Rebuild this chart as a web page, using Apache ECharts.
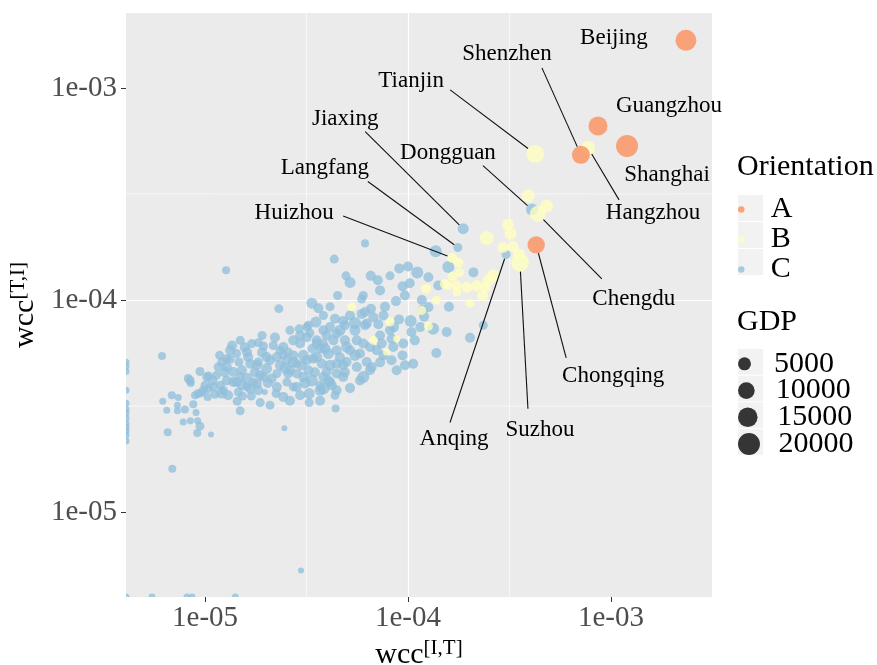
<!DOCTYPE html>
<html>
<head>
<meta charset="utf-8">
<script src="https://cdn.jsdelivr.net/npm/echarts@6/dist/echarts.min.js"></script>
<style>
  html, body { margin: 0; padding: 0; background: #ffffff; }
  #chart { width: 877px; height: 665px; }
</style>
</head>
<body>
<div id="chart"></div>
<script>
// ---------- data ----------
const orientations = ['A', 'B', 'C'];
const orientationColors = ['#FC8D59', '#FFFFBF', '#91BFDB'];
const gdpBreaks = [5000, 10000, 15000, 20000];
const majorBreaks = [1e-5, 1e-4, 1e-3];
const minorBreaks = [3.1623e-5, 3.1623e-4];
const xRange = [4.08e-6, 3.145e-3];
const yRange = [3.97e-6, 2.26e-3];

// rows: [wcc(I,T), wcc(T,I), GDP, city]; a 0 means no flow (log = -Inf)
const groupA = [
  [2.34e-3, 1.68e-3, 17900, 'Beijing'],
  [8.63e-4, 6.62e-4, 14000, 'Guangzhou'],
  [1.20e-3, 5.33e-4, 20100, 'Shanghai'],
  [7.11e-4, 4.84e-4, 12200, 'Shenzhen'],
  [4.28e-4, 1.82e-4, 11000, 'Chongqing']
];

const groupB = [
  [4.23e-4, 4.89e-4, 12000, 'Tianjin'],
  [7.71e-4, 5.22e-4, 6500, 'Hangzhou'],
  [3.56e-4, 1.50e-4, 12000, 'Suzhou'],
  [4.36e-4, 2.55e-4, 8900, 'Chengdu'],
  [1.65e-4, 1.58e-4, 2230, 'Huizhou'],
  [2.44e-4, 1.96e-4, 6200], [3.11e-4, 2.27e-4, 3970], [3.20e-4, 2.06e-4, 3970],
  [2.94e-4, 1.77e-4, 3040], [3.29e-4, 1.79e-4, 3040], [3.52e-4, 1.64e-4, 3970],
  [1.77e-4, 1.50e-4, 2230], [1.80e-4, 1.35e-4, 1550], [1.66e-4, 1.29e-4, 2230],
  [1.74e-4, 1.17e-4, 2230], [1.95e-4, 1.15e-4, 3040], [2.18e-4, 1.17e-4, 3040],
  [2.49e-4, 1.24e-4, 3970], [2.63e-4, 1.30e-4, 5020], [2.33e-4, 1.05e-4, 3040],
  [2.02e-4, 9.66e-5, 1550], [1.74e-4, 1.09e-4, 1550], [1.58e-4, 1.17e-4, 1550],
  [1.23e-4, 1.13e-4, 2230], [1.17e-4, 8.92e-5, 1550], [5.28e-5, 9.30e-5, 1550],
  [8.15e-5, 7.87e-5, 1550], [6.75e-5, 6.45e-5, 1550], [8.79e-5, 6.56e-5, 560],
  [1.26e-4, 7.52e-5, 1550], [1.38e-4, 9.98e-5, 1550], [3.91e-4, 3.10e-4, 5020],
  [4.82e-4, 2.78e-4, 5020], [7.84e-5, 5.68e-5, 560], [1.52e-4, 1.19e-4, 2230],
  [2.40e-4, 1.15e-4, 3040]
];

const groupC = [
  [4.08e-4, 2.67e-4, 3970, 'Dongguan'],
  [1.87e-4, 2.17e-4, 3040, 'Jiaxing'],
  [1.76e-4, 1.77e-4, 1550, 'Langfang'],
  [3.04e-4, 1.64e-4, 1550, 'Anqing'],
  [0, 5.08e-5, 560], [0, 4.87e-5, 560], [0, 4.60e-5, 560], [0, 3.75e-5, 560],
  [0, 3.26e-5, 560], [0, 3.05e-5, 560], [0, 2.92e-5, 560], [0, 2.77e-5, 560],
  [0, 2.62e-5, 560], [0, 2.51e-5, 560], [0, 2.41e-5, 560], [0, 2.30e-5, 560],
  [0, 2.16e-5, 560], [5.48e-6, 0, 560], [8.15e-6, 0, 560], [8.63e-6, 0, 560],
  [1.41e-5, 0, 560], [0, 0, 560],
  [6.90e-6, 1.60e-5, 1000], [2.97e-5, 5.30e-6, 250], [2.46e-5, 2.48e-5, 250],
  [6.14e-6, 5.44e-5, 1000], [1.27e-5, 1.38e-4, 1000], [6.86e-6, 3.55e-5, 1000],
  [7.38e-6, 3.47e-5, 560], [6.19e-6, 3.33e-5, 560], [8.93e-6, 3.55e-5, 1000],
  [9.63e-6, 3.64e-5, 1000], [1.03e-5, 3.49e-5, 1000], [1.12e-5, 3.59e-5, 1550],
  [1.21e-5, 3.64e-5, 3040], [8.75e-6, 3.22e-5, 1000], [7.31e-6, 3.19e-5, 560],
  [7.96e-6, 3.04e-5, 1000], [6.48e-6, 3.02e-5, 560], [7.31e-6, 3.00e-5, 560],
  [9.03e-6, 2.95e-5, 560], [7.81e-6, 2.66e-5, 560], [8.47e-6, 2.69e-5, 560],
  [9.20e-6, 2.69e-5, 560], [9.44e-6, 2.54e-5, 1550], [6.55e-6, 2.38e-5, 1000],
  [9.16e-6, 2.36e-5, 1000], [1.07e-5, 2.32e-5, 250], [1.44e-5, 3.33e-5, 1550],
  [1.53e-5, 3.52e-5, 1550], [1.69e-5, 3.52e-5, 1550], [1.87e-5, 3.28e-5, 1550],
  [1.97e-5, 3.68e-5, 250], [2.24e-5, 3.62e-5, 1550], [3.26e-5, 3.62e-5, 3040],
  [3.26e-5, 3.28e-5, 1550], [3.69e-5, 3.75e-5, 3040], [2.31e-5, 9.10e-5, 1550],
  [3.36e-5, 9.66e-5, 3040], [3.62e-5, 9.15e-5, 2230], [3.83e-5, 8.45e-5, 1550],
  [3.52e-5, 7.87e-5, 3040], [3.17e-5, 7.45e-5, 1550], [2.91e-5, 7.32e-5, 1550],
  [3.29e-5, 7.00e-5, 1550], [1.18e-5, 5.48e-5, 1550], [1.21e-5, 5.10e-5, 1550],
  [1.33e-5, 5.25e-5, 1550], [1.47e-5, 5.10e-5, 1550], [1.63e-5, 5.38e-5, 2230],
  [1.70e-5, 6.23e-5, 1550], [1.83e-5, 6.29e-5, 1550], [1.94e-5, 6.06e-5, 1550],
  [2.17e-5, 6.10e-5, 1550], [2.34e-5, 5.79e-5, 1550], [2.57e-5, 5.68e-5, 1550],
  [2.94e-5, 6.23e-5, 2230], [3.17e-5, 6.68e-5, 2230], [3.55e-5, 6.23e-5, 2230],
  [3.97e-5, 6.80e-5, 2230], [9.44e-6, 4.60e-5, 1550], [8.27e-6, 4.26e-5, 1550],
  [8.50e-6, 4.06e-5, 1000], [9.80e-6, 3.75e-5, 1550], [1.04e-5, 4.38e-5, 1550],
  [1.14e-5, 4.42e-5, 1550], [1.10e-5, 3.89e-5, 1550], [1.19e-5, 3.96e-5, 1550],
  [1.28e-5, 4.83e-5, 2230], [1.38e-5, 4.57e-5, 2230], [1.49e-5, 4.33e-5, 1550],
  [1.38e-5, 4.10e-5, 2230], [1.52e-5, 3.96e-5, 2230], [1.46e-5, 3.68e-5, 1550],
  [1.67e-5, 3.82e-5, 2230], [1.73e-5, 4.10e-5, 1550], [1.87e-5, 4.42e-5, 2230],
  [1.80e-5, 4.92e-5, 2230], [2.01e-5, 4.75e-5, 3040], [2.13e-5, 4.26e-5, 2230],
  [2.26e-5, 3.89e-5, 2230], [2.53e-5, 4.10e-5, 1550], [2.72e-5, 3.89e-5, 1550],
  [2.57e-5, 4.50e-5, 2230], [2.34e-5, 4.92e-5, 2230], [2.72e-5, 5.10e-5, 3040],
  [2.99e-5, 4.92e-5, 2230], [3.23e-5, 4.66e-5, 2230], [3.36e-5, 4.17e-5, 3970],
  [3.69e-5, 3.96e-5, 1550], [3.83e-5, 3.82e-5, 3970], [2.26e-5, 5.38e-5, 2230],
  [2.43e-5, 5.48e-5, 1550], [2.72e-5, 5.48e-5, 2230], [3.05e-5, 5.48e-5, 3040],
  [3.41e-5, 5.29e-5, 2230], [3.76e-5, 5.00e-5, 2230], [4.05e-5, 5.59e-5, 3040],
  [3.69e-5, 5.90e-5, 2230], [3.36e-5, 5.90e-5, 1550], [3.97e-5, 4.57e-5, 2230],
  [4.05e-5, 4.17e-5, 2230], [4.33e-5, 1.56e-4, 1550], [4.95e-5, 1.30e-4, 1550],
  [5.18e-5, 1.21e-4, 3040], [6.02e-5, 1.05e-4, 1550], [4.37e-5, 8.15e-5, 2230],
  [4.79e-5, 7.96e-5, 2230], [5.48e-5, 7.78e-5, 3970], [6.14e-5, 8.77e-5, 2230],
  [3.23e-5, 7.60e-5, 1550], [3.83e-5, 7.20e-5, 2230], [4.13e-5, 7.45e-5, 2230],
  [4.62e-5, 7.20e-5, 3040], [3.55e-5, 6.45e-5, 2230], [3.83e-5, 6.23e-5, 1550],
  [4.29e-5, 6.45e-5, 2230], [4.98e-5, 6.00e-5, 3040], [5.59e-5, 6.45e-5, 2230],
  [4.45e-5, 5.79e-5, 2230], [2.72e-5, 6.45e-5, 2230], [2.43e-5, 6.00e-5, 2230],
  [1.61e-5, 5.68e-5, 2230], [1.43e-5, 5.59e-5, 1550], [1.28e-5, 5.29e-5, 1550],
  [1.16e-5, 4.83e-5, 1550], [1.52e-5, 4.66e-5, 2230], [1.67e-5, 5.00e-5, 2230],
  [1.83e-5, 5.10e-5, 1550], [2.01e-5, 5.38e-5, 2230], [2.53e-5, 5.20e-5, 2230],
  [2.83e-5, 5.00e-5, 1550], [3.17e-5, 5.20e-5, 2230], [3.55e-5, 5.38e-5, 3040],
  [4.45e-5, 5.00e-5, 2230], [4.98e-5, 5.10e-5, 2230], [5.59e-5, 4.83e-5, 2230],
  [6.02e-5, 4.33e-5, 3970], [2.62e-5, 4.66e-5, 2230], [2.26e-5, 4.50e-5, 1550],
  [1.94e-5, 4.33e-5, 2230], [1.80e-5, 4.03e-5, 2230], [1.61e-5, 3.89e-5, 1550],
  [1.43e-5, 4.10e-5, 2230], [1.28e-5, 4.17e-5, 2230], [1.02e-5, 4.33e-5, 1550],
  [8.44e-6, 4.17e-5, 1550], [9.27e-6, 3.62e-5, 1550], [1.04e-5, 3.82e-5, 1550],
  [1.23e-5, 3.75e-5, 1550], [2.43e-5, 3.49e-5, 2230], [2.83e-5, 3.89e-5, 2230],
  [4.13e-5, 4.10e-5, 2230], [4.45e-5, 3.75e-5, 2230], [3.83e-5, 4.33e-5, 2230],
  [3.05e-5, 4.33e-5, 2230], [4.40e-5, 3.08e-5, 1000], [1.37e-4, 1.70e-4, 3970],
  [6.14e-5, 1.85e-4, 1000], [6.55e-5, 1.30e-4, 2230], [9.06e-5, 1.41e-4, 2230],
  [1.00e-4, 1.44e-4, 2230], [1.11e-4, 1.35e-4, 3970], [1.26e-4, 1.28e-4, 2230],
  [1.58e-4, 1.43e-4, 3970], [2.10e-4, 1.35e-4, 2230], [9.40e-5, 1.16e-4, 2230],
  [1.41e-4, 1.17e-4, 2230], [5.91e-5, 1.01e-4, 1550], [8.72e-5, 9.88e-5, 2230],
  [1.17e-4, 1.00e-4, 2230], [1.26e-4, 9.25e-5, 2230], [1.18e-4, 8.97e-5, 2230],
  [1.59e-4, 9.30e-5, 2230], [1.03e-4, 7.96e-5, 3970], [9.03e-5, 8.10e-5, 2230],
  [1.20e-4, 8.35e-5, 2230], [1.33e-4, 7.32e-5, 3970], [1.15e-4, 7.45e-5, 2230],
  [1.04e-4, 7.06e-5, 2230], [1.55e-4, 7.06e-5, 2230], [2.02e-4, 6.64e-5, 2230],
  [2.35e-4, 7.60e-5, 1550], [6.57e-5, 9.10e-5, 2230], [5.91e-5, 8.60e-5, 2230],
  [6.75e-5, 8.30e-5, 2230], [7.57e-5, 8.45e-5, 2230], [6.26e-5, 7.74e-5, 2230],
  [7.14e-5, 7.68e-5, 2230], [4.89e-5, 7.60e-5, 2230], [4.89e-5, 6.45e-5, 2230],
  [6.02e-5, 6.23e-5, 2230], [7.42e-5, 6.23e-5, 2230], [6.50e-5, 6.00e-5, 2230],
  [8.53e-5, 7.45e-5, 2230], [8.30e-5, 6.56e-5, 2230], [9.47e-5, 6.23e-5, 2230],
  [1.08e-4, 6.45e-5, 2230], [8.46e-5, 6.00e-5, 2230], [4.45e-5, 6.93e-5, 2230],
  [1.38e-4, 5.62e-5, 2230], [9.40e-5, 5.48e-5, 2230], [1.06e-4, 5.00e-5, 2230],
  [9.66e-5, 4.92e-5, 2230], [8.79e-5, 4.66e-5, 2230], [6.63e-5, 4.83e-5, 2230],
  [6.26e-5, 5.10e-5, 2230], [4.79e-5, 4.92e-5, 2230], [4.45e-5, 4.50e-5, 2230],
  [4.79e-5, 4.33e-5, 2230], [4.21e-5, 3.96e-5, 2230], [5.18e-5, 5.79e-5, 2230],
  [5.80e-5, 5.59e-5, 2230], [7.01e-5, 5.79e-5, 2230], [7.57e-5, 5.48e-5, 2230],
  [1.33e-5, 5.79e-5, 2230], [1.57e-5, 5.98e-5, 2230], [1.91e-5, 5.66e-5, 2230],
  [2.09e-5, 5.20e-5, 2230], [2.48e-5, 4.77e-5, 3040], [2.84e-5, 4.50e-5, 2230],
  [3.11e-5, 4.06e-5, 3040], [3.48e-5, 4.56e-5, 2230], [4.13e-5, 4.92e-5, 3040],
  [4.89e-5, 4.56e-5, 2230], [5.48e-5, 5.48e-5, 3040], [4.62e-5, 5.37e-5, 2230],
  [3.90e-5, 5.90e-5, 3040], [2.94e-5, 6.80e-5, 2230], [2.62e-5, 7.20e-5, 1550],
  [2.21e-5, 6.66e-5, 2230], [1.91e-5, 6.80e-5, 1550], [1.49e-5, 6.45e-5, 1550],
  [1.36e-5, 6.10e-5, 2230], [1.76e-5, 4.56e-5, 2230], [1.61e-5, 4.27e-5, 3040],
  [1.25e-5, 4.56e-5, 2230], [1.09e-5, 4.17e-5, 2230], [1.00e-5, 3.96e-5, 1550],
  [1.30e-5, 3.55e-5, 2230], [1.83e-5, 3.75e-5, 2230], [2.04e-5, 4.06e-5, 2230],
  [2.94e-5, 3.55e-5, 2230], [4.37e-5, 3.55e-5, 1550], [5.18e-5, 3.84e-5, 2230],
  [5.80e-5, 4.17e-5, 2230], [6.50e-5, 4.66e-5, 2230], [7.28e-5, 5.08e-5, 2230],
  [8.30e-5, 5.20e-5, 2230], [7.28e-5, 6.80e-5, 2230], [8.15e-5, 7.20e-5, 2230],
  [5.48e-5, 7.20e-5, 3040], [6.14e-5, 7.60e-5, 2230], [5.18e-5, 8.45e-5, 2230],
  [4.13e-5, 9.30e-5, 1550], [4.50e-5, 1.05e-4, 1550], [7.28e-5, 1.11e-4, 2230],
  [7.70e-5, 9.30e-5, 2230], [9.66e-5, 1.05e-4, 2230], [7.10e-5, 1.24e-4, 2230],
  [8.15e-5, 1.30e-4, 1550], [1.02e-4, 1.20e-4, 2230], [2.09e-5, 3.19e-5, 1550],
  [2.62e-5, 3.35e-5, 2230], [1.49e-5, 3.00e-5, 1550], [3.69e-5, 3.35e-5, 2230]
];

// where each city name sits relative to its point, and where its leader starts
// relative to the name (px)
const labelPlacement = {
  Beijing:   { text: [-72, -2] },
  Guangzhou: { text: [71, -20] },
  Shanghai:  { text: [40, 29] },
  Shenzhen:  { text: [-74, -101], from: [35, 14] },
  Tianjin:   { text: [-124, -73], from: [39, 9] },
  Jiaxing:   { text: [-118, -110], from: [20, 13] },
  Dongguan:  { text: [-84, -57], from: [35, 13] },
  Langfang:  { text: [-133, -79], from: [43, 13] },
  Huizhou:   { text: [-158, -45], from: [49, 3] },
  Hangzhou:  { text: [65, 65], from: [-34, -13] },
  Chengdu:   { text: [96, 85], from: [-32, -20] },
  Chongqing: { text: [77, 131], from: [-47, -18] },
  Suzhou:    { text: [20, 167], from: [-12, -21] },
  Anqing:    { text: [-52, 184], from: [-4, -16] }
};

// ---------- styling helpers ----------
const SERIF = '"Liberation Serif", "Times New Roman", serif';
const POINT_ALPHA = 0.78;
const gdpToSize = g => 4 + 0.127 * Math.sqrt(g);          // area-style size scale
const onFloor = (v, floor) => (v === 0 ? floor : v);       // -Inf goes to the panel edge
const expLabel = v => {
  const e = Math.round(Math.log10(v));
  return '1e' + (e < 0 ? '-' : '+') + String(Math.abs(e)).padStart(2, '0');
};

const toItems = rows => rows
  .filter(r => r[0] !== 0 && r[1] !== 0)
  .map(r => ({ name: r[3] || '', value: [r[0], r[1], r[2]] }));
const edgeRowsC = groupC.filter(r => r[0] === 0 || r[1] === 0)
  .map(r => [onFloor(r[0], xRange[0]), onFloor(r[1], yRange[0]), r[2]]);
const labelled = [...groupA, ...groupB, ...groupC].filter(r => r[3]);

const scatterSeries = (name, rows, color, z) => ({
  type: 'scatter', name, data: toItems(rows), z,
  symbolSize: v => gdpToSize(v[2]),
  itemStyle: { color, opacity: POINT_ALPHA },
  silent: true, emphasis: { disabled: true }, animation: false
});

// thin white minor grid lines, one line series per break
const minorGridSeries = [
  ...minorBreaks.map(v => [[v, yRange[0]], [v, yRange[1]]]),
  ...minorBreaks.map(v => [[xRange[0], v], [xRange[1], v]])
].map(seg => ({
  type: 'line', data: seg, z: 1, symbol: 'none', silent: true, animation: false,
  lineStyle: { color: '#ffffff', width: 0.6 }, emphasis: { disabled: true }
}));

const axisNameStyle = {
  fontFamily: SERIF, color: '#000',
  rich: {
    m: { fontFamily: SERIF, fontSize: 30, color: '#000' },
    s: { fontFamily: SERIF, fontSize: 21, color: '#000', padding: [0, 0, 13, 0] }
  }
};

const majorAxis = (range, name, nameGap, labelMargin, extra) => Object.assign({
  type: 'log', logBase: 10, min: range[0], max: range[1],
  axisLine: { show: false },
  axisTick: { show: true, length: 5, customValues: majorBreaks, lineStyle: { color: '#333333', width: 1 } },
  axisLabel: { customValues: majorBreaks, formatter: expLabel, fontFamily: SERIF, fontSize: 29,
               color: '#4D4D4D', margin: labelMargin },
  splitLine: { show: true, showMinLine: false, showMaxLine: false, lineStyle: { color: '#ffffff', width: 1.2 } },
  name, nameGap, nameLocation: 'middle', nameTextStyle: axisNameStyle
}, extra);

const keyPitchA = 27, keyPitchGDP = 26.7;
const keyTopA = 195, keyTopGDP = 349;
const legendText = { fontFamily: SERIF, fontSize: 30, color: '#000', padding: [0, 0, 0, 12] };

const option = {
  animation: false,
  title: [
    { text: 'Orientation', left: 737, top: 152, padding: 0,
      textStyle: { fontFamily: SERIF, fontSize: 30, fontWeight: 'normal', color: '#000' } },
    { text: 'GDP', left: 737, top: 307, padding: 0,
      textStyle: { fontFamily: SERIF, fontSize: 30, fontWeight: 'normal', color: '#000' } }
  ],
  grid: {
    left: 126, top: 13, width: 586, height: 584,
    show: true, backgroundColor: '#EBEBEB', borderWidth: 0,
    containLabel: false, outerBoundsMode: 'none'
  },
  xAxis: majorAxis(xRange, '{m|wcc}{s|[I,T]}', 35, 7, {}),
  yAxis: majorAxis(yRange, '{m|wcc}{s|[T,I]}', 63, 9, { nameRotate: 90 }),
  legend: [
    {
      data: orientations, orient: 'vertical', left: 738, top: keyTopA - 0.5,
      itemWidth: 25, itemHeight: 6.5, itemGap: 0, padding: 0, icon: 'circle',
      selectedMode: false, itemStyle: { opacity: POINT_ALPHA },
      textStyle: Object.assign({ lineHeight: keyPitchA }, legendText)
    },
    ...gdpBreaks.map((g, i) => ({
      data: [String(g)], orient: 'vertical', left: 738,
      top: keyTopGDP + i * keyPitchGDP + keyPitchGDP / 2 - 13.5,
      itemWidth: 25, itemHeight: gdpToSize(g), itemGap: 0, padding: 0, icon: 'circle',
      selectedMode: false, itemStyle: { opacity: POINT_ALPHA },
      textStyle: Object.assign({ lineHeight: 27 }, legendText)
    }))
  ],
  graphic: [
    ...orientations.map((o, i) => ({
      type: 'rect', silent: true, z: 0,
      shape: { x: 738, y: keyTopA + i * keyPitchA, width: 25, height: keyPitchA - 1 },
      style: { fill: '#F2F2F2' }
    })),
    ...gdpBreaks.map((g, i) => ({
      type: 'rect', silent: true, z: 0,
      shape: { x: 738, y: keyTopGDP + i * keyPitchGDP, width: 25, height: keyPitchGDP - 1 },
      style: { fill: '#F2F2F2' }
    }))
  ],
  series: [
    ...minorGridSeries,
    scatterSeries('C', groupC, orientationColors[2], 2),
    {
      type: 'custom', name: 'C', data: edgeRowsC, clip: true, z: 2, silent: true, animation: false,
      renderItem(params, api) {
        const p = api.coord([api.value(0), api.value(1)]);
        return {
          type: 'circle',
          shape: { cx: p[0], cy: p[1], r: gdpToSize(api.value(2)) / 2 },
          style: { fill: orientationColors[2], opacity: POINT_ALPHA }
        };
      }
    },
    scatterSeries('B', groupB, orientationColors[1], 3),
    scatterSeries('A', groupA, orientationColors[0], 4),
    ...gdpBreaks.map(g => ({
      type: 'scatter', name: String(g), data: [],
      itemStyle: { color: '#000000', opacity: POINT_ALPHA }
    })),
    {
      type: 'custom', name: 'city labels', data: labelled.map(r => [r[0], r[1], r[2]]),
      clip: false, z: 10, silent: true, animation: false,
      renderItem(params, api) {
        const city = labelled[params.dataIndex][3];
        const place = labelPlacement[city];
        const p = api.coord([api.value(0), api.value(1)]);
        const r = gdpToSize(api.value(2)) / 2;
        const tx = p[0] + place.text[0];
        const ty = p[1] + place.text[1];
        const children = [];
        if (place.from) {
          const sx = tx + place.from[0], sy = ty + place.from[1];
          const dx = sx - p[0], dy = sy - p[1];
          const len = Math.hypot(dx, dy);
          children.push({
            type: 'line',
            shape: { x1: sx, y1: sy, x2: p[0] + dx / len * r, y2: p[1] + dy / len * r },
            style: { stroke: '#111111', lineWidth: 1.1 }
          });
        }
        children.push({
          type: 'text',
          style: { text: city, x: tx, y: ty, align: 'center', verticalAlign: 'middle',
                   fontFamily: SERIF, fontSize: 23, fill: '#000000' }
        });
        return { type: 'group', children };
      }
    }
  ]
};

const chart = echarts.init(document.getElementById('chart'), null, { renderer: 'canvas' });
chart.setOption(option);
</script>
</body>
</html>
